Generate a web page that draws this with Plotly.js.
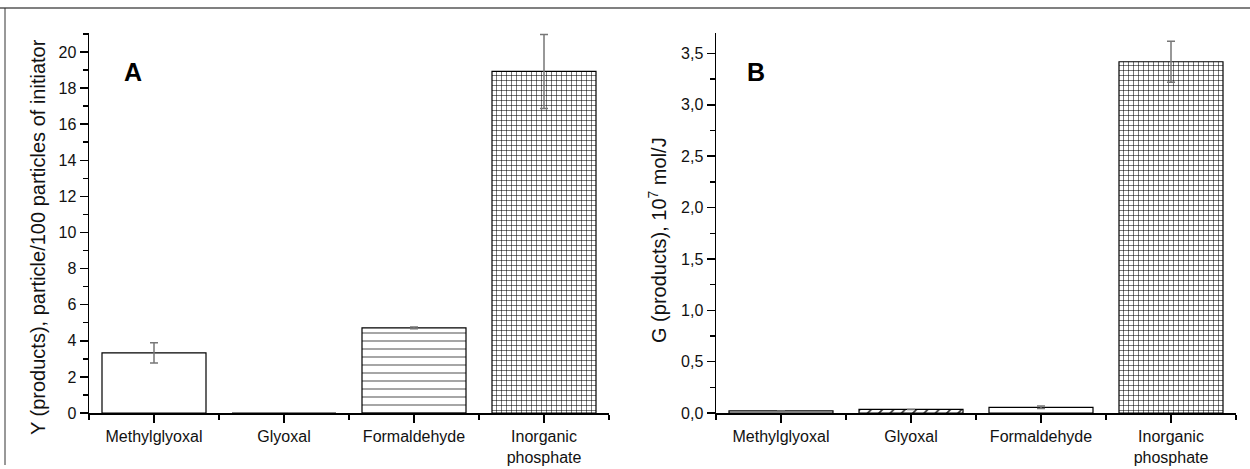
<!DOCTYPE html>
<html>
<head>
<meta charset="utf-8">
<script src="https://cdn.plot.ly/plotly-3.0.1.min.js"></script>
<style>html,body{margin:0;padding:0;background:#fff}#chart{width:1250px;height:469px}</style>
</head>
<body>
<div id="chart"></div>
<script>
// ---- data ----
const categories = ["Methylglyoxal", "Glyoxal", "Formaldehyde", "Inorganic<br>phosphate"];
const yieldA = [3.33, 0, 4.72, 18.92];
const yieldAErr = [0.56, 0, 0.05, 2.05];
const gB = [0.02, 0.035, 0.055, 3.42];
const gBErr = [0, 0, 0.012, 0.2];
const yTicksA = [0, 2, 4, 6, 8, 10, 12, 14, 16, 18, 20];
const yTicksB = [0, 0.5, 1.0, 1.5, 2.0, 2.5, 3.0, 3.5];
const titleA = "Y (products), particle/100 particles of initiator";
const titleB = "G (products), 10<sup>7</sup> mol/J";

const idx = categories.map((c, i) => i);
const font = "Liberation Sans, Arial, sans-serif";

const patternsA = [
  {shape: "", bgcolor: "#fff"},
  {shape: "", bgcolor: "#fff"},
  {shape: "-", size: 8, solidity: 0.12, fgcolor: "#444", bgcolor: "#fff"},
  {shape: "+", size: 5, solidity: 0.2, fgcolor: "#000", bgcolor: "#fff"}
];
const patternsB = [
  {shape: "", bgcolor: "#fff"},
  {shape: "/", size: 8, solidity: 0.2, fgcolor: "#333", bgcolor: "#fff"},
  {shape: "", bgcolor: "#fff"},
  {shape: "+", size: 5, solidity: 0.2, fgcolor: "#000", bgcolor: "#fff"}
];

function barTrace(vals, errs, pats, xa, ya) {
  return {
    type: "bar", x: idx, y: vals, width: 0.8, xaxis: xa, yaxis: ya,
    marker: {color: "#fff", line: {color: "#000", width: 1.2},
      pattern: {
        shape: pats.map(p => p.shape),
        size: pats.map(p => p.size || 8),
        solidity: pats.map(p => p.solidity || 0.2),
        fgcolor: pats.map(p => p.fgcolor || "#000"),
        bgcolor: pats.map(p => p.bgcolor),
        fillmode: "replace"
      }},
    error_y: {type: "data", array: errs, visible: true, color: "#777", thickness: 1.5, width: 4},
    showlegend: false, hoverinfo: "skip"
  };
}

const traces = [
  barTrace(yieldA, yieldAErr, patternsA, "x", "y"),
  barTrace(gB, gBErr, patternsB, "x2", "y2")
];

function xAxis(domain, anchor) {
  return {
    domain: domain, anchor: anchor, range: [-0.5, 3.5], type: "linear",
    tickvals: idx, ticktext: categories, ticks: "outside", ticklen: 8, tickwidth: 1.5,
    tickcolor: "#000", showline: true, linecolor: "#000", linewidth: 1.5,
    showgrid: false, zeroline: false, fixedrange: true,
    tickfont: {family: font, size: 16, color: "#111"},
    minor: {tick0: -0.5, dtick: 1, ticks: "outside", ticklen: 5, tickwidth: 1.5, tickcolor: "#000", showgrid: false}
  };
}
function yAxis(domain, anchor, range, ticks, minorStep, fmt) {
  return {
    domain: domain, anchor: anchor, range: range, tickvals: ticks, tickformat: fmt,
    ticks: "outside", ticklen: 8, tickwidth: 1.5, tickcolor: "#000",
    showline: true, linecolor: "#000", linewidth: 1.5, showgrid: false, zeroline: false,
    tickfont: {family: font, size: 16, color: "#111"}, fixedrange: true,
    minor: {tick0: 0, dtick: minorStep, ticks: "outside", ticklen: 5, tickwidth: 1.5, tickcolor: "#000", showgrid: false}
  };
}

const H = 469, W = 1250;
const yDom = [1 - 413 / H, 1 - 33 / H];

const layout = {
  width: W, height: H,
  margin: {l: 0, r: 0, t: 0, b: 0},
  paper_bgcolor: "#fff", plot_bgcolor: "#fff",
  separators: ",.",
  font: {family: font, color: "#111"},
  xaxis: xAxis([89 / W, 609 / W], "y"),
  yaxis: yAxis(yDom, "x", [0, 21.05], yTicksA, 1, "d"),
  xaxis2: xAxis([716 / W, 1236 / W], "y2"),
  yaxis2: yAxis(yDom, "x2", [0, 3.7], yTicksB, 0.25, ".1f"),
  annotations: [
    {text: titleA, xref: "paper", yref: "paper", x: 38 / W, y: 1 - 237 / H, showarrow: false,
     textangle: -90, font: {family: font, size: 20, color: "#111"}, xanchor: "center", yanchor: "middle"},
    {text: titleB, xref: "paper", yref: "paper", x: 657 / W, y: 1 - 240 / H, showarrow: false,
     textangle: -90, font: {family: font, size: 20, color: "#111"}, xanchor: "center", yanchor: "middle"},
    {text: "<b>A</b>", xref: "paper", yref: "paper", x: 133 / W, y: 1 - 72 / H, showarrow: false,
     font: {family: font, size: 25, color: "#000"}, xanchor: "center", yanchor: "middle"},
    {text: "<b>B</b>", xref: "paper", yref: "paper", x: 756 / W, y: 1 - 72 / H, showarrow: false,
     font: {family: font, size: 25, color: "#000"}, xanchor: "center", yanchor: "middle"}
  ],
  shapes: [
    {type: "line", xref: "paper", yref: "paper", x0: 0, x1: 1, y0: 1 - 8 / H, y1: 1 - 8 / H,
     line: {color: "#808080", width: 2}},
    {type: "line", xref: "paper", yref: "paper", x0: 5 / W, x1: 5 / W, y0: 1 - 8 / H, y1: 1 - 465 / H,
     line: {color: "#333", width: 1}}
  ]
};

Plotly.newPlot("chart", traces, layout, {displayModeBar: false, staticPlot: true});
</script>
</body>
</html>
